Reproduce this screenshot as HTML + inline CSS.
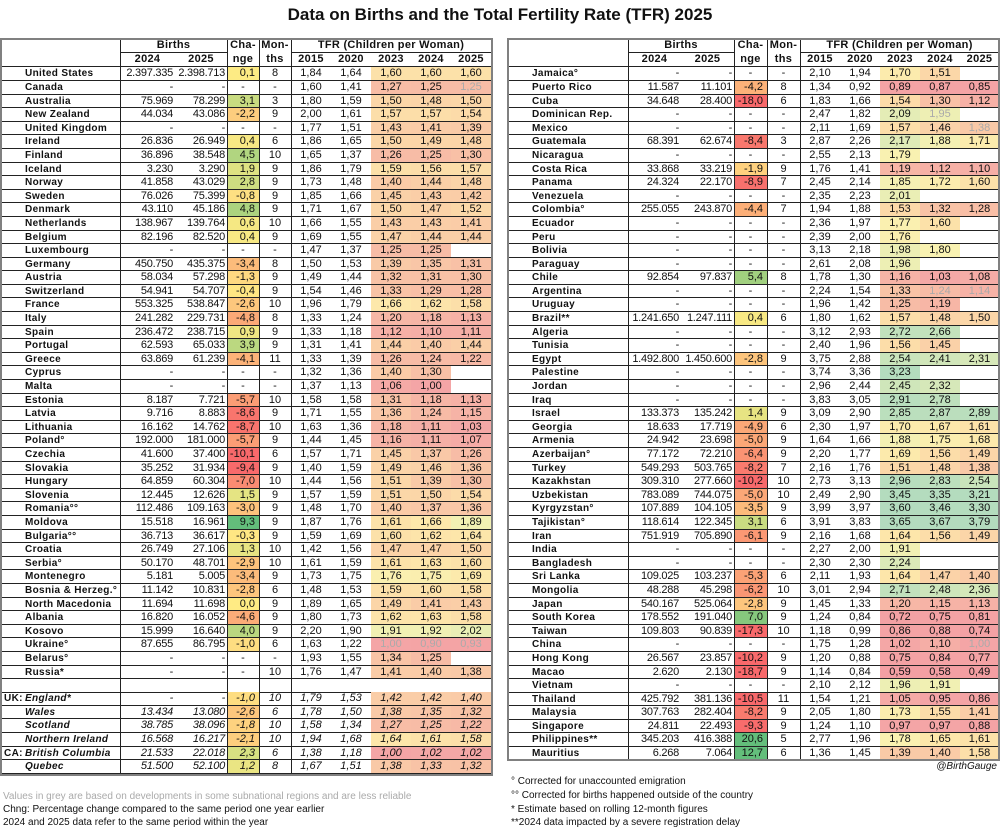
<!DOCTYPE html>
<html><head><meta charset="utf-8">
<style>
body{margin:0;width:1000px;height:829px;background:#fff;position:relative;font-family:"Liberation Sans",Arial,sans-serif;color:#111;overflow:hidden}
.title{position:absolute;left:0;width:1000px;top:5px;text-align:center;font-weight:bold;font-size:17px}
.box{position:absolute;border:2px solid #808080;box-sizing:border-box}
.vl{position:absolute;width:1px;background:#222}
.grid{position:absolute;display:grid}
.L{grid-template-columns:119px 55px 52px 32px 32px 40px 40px 40px 40px 40px}
.R{grid-template-columns:120px 53px 53px 33px 33px 40px 40px 40px 40px 39px}
.hdr{grid-template-rows:13.7px 13.7px}
.hdr>div{font-weight:bold;font-size:11px;line-height:13px;text-align:center;letter-spacing:.3px;box-sizing:border-box}
.bb{border-bottom:1px solid #222}
.data{grid-auto-rows:13.6px;border-top:1px solid #222}
.data>div{border-bottom:1px solid #222;font-size:11px;line-height:13px;white-space:nowrap;overflow:hidden;box-sizing:border-box;height:13.6px;text-align:center;position:relative}
.L.data>div:nth-child(10n+1),.R.data>div:nth-child(10n+1){text-align:left;font-weight:bold;font-size:10px;letter-spacing:.35px;padding-left:24px}
.data>div:nth-child(10n+2),.data>div:nth-child(10n+3),.data>div:nth-child(10n+4){text-align:right;padding-right:4px}
.data>div:nth-child(10n+2),.data>div:nth-child(10n+3){padding-right:2px;letter-spacing:-0.25px}
.data>div.x{text-align:center!important;padding-right:0!important}
.gr{color:#aaa}
.it>div{font-style:italic}
.pre{position:absolute;left:3px;font-style:normal}
.fn{position:absolute;font-size:10px;white-space:nowrap}
</style></head><body>
<div class="title">Data on Births and the Total Fertility Rate (TFR) 2025</div>

<!-- LEFT TABLE -->
<div class="grid L hdr" style="left:1px;top:39px">
<div style="grid-column:1;grid-row:1/3"></div>
<div class="bb" style="grid-column:2/4;grid-row:1">Births</div>
<div style="grid-column:4;grid-row:1">Cha-</div>
<div style="grid-column:5;grid-row:1">Mon-</div>
<div class="bb" style="grid-column:6/11;grid-row:1">TFR (Children per Woman)</div>
<div style="grid-column:2;grid-row:2">2024</div><div style="grid-column:3;grid-row:2">2025</div>
<div style="grid-column:4;grid-row:2">nge</div><div style="grid-column:5;grid-row:2">ths</div>
<div style="grid-column:6;grid-row:2">2015</div><div style="grid-column:7;grid-row:2">2020</div><div style="grid-column:8;grid-row:2">2023</div><div style="grid-column:9;grid-row:2">2024</div><div style="grid-column:10;grid-row:2">2025</div>
</div>
<div class="grid L data" style="left:1px;top:66.4px">
<div>United States</div><div>2.397.335</div><div>2.398.713</div><div>0,1</div><div>8</div><div>1,84</div><div>1,64</div><div>1,60</div><div>1,60</div><div>1,60</div>
<div>Canada</div><div>-</div><div>-</div><div class="x">-</div><div>-</div><div>1,60</div><div>1,41</div><div>1,27</div><div>1,25</div><div class="gr">1,25</div>
<div>Australia</div><div>75.969</div><div>78.299</div><div>3,1</div><div>3</div><div>1,80</div><div>1,59</div><div>1,50</div><div>1,48</div><div>1,50</div>
<div>New Zealand</div><div>44.034</div><div>43.086</div><div>-2,2</div><div>9</div><div>2,00</div><div>1,61</div><div>1,57</div><div>1,57</div><div>1,54</div>
<div>United Kingdom</div><div>-</div><div>-</div><div class="x">-</div><div>-</div><div>1,77</div><div>1,51</div><div>1,43</div><div>1,41</div><div>1,39</div>
<div>Ireland</div><div>26.836</div><div>26.949</div><div>0,4</div><div>6</div><div>1,86</div><div>1,65</div><div>1,50</div><div>1,49</div><div>1,48</div>
<div>Finland</div><div>36.896</div><div>38.548</div><div>4,5</div><div>10</div><div>1,65</div><div>1,37</div><div>1,26</div><div>1,25</div><div>1,30</div>
<div>Iceland</div><div>3.230</div><div>3.290</div><div>1,9</div><div>9</div><div>1,86</div><div>1,79</div><div>1,59</div><div>1,56</div><div>1,57</div>
<div>Norway</div><div>41.858</div><div>43.029</div><div>2,8</div><div>9</div><div>1,73</div><div>1,48</div><div>1,40</div><div>1,44</div><div>1,48</div>
<div>Sweden</div><div>76.026</div><div>75.399</div><div>-0,8</div><div>9</div><div>1,85</div><div>1,66</div><div>1,45</div><div>1,43</div><div>1,42</div>
<div>Denmark</div><div>43.110</div><div>45.186</div><div>4,8</div><div>9</div><div>1,71</div><div>1,67</div><div>1,50</div><div>1,47</div><div>1,52</div>
<div>Netherlands</div><div>138.967</div><div>139.764</div><div>0,6</div><div>10</div><div>1,66</div><div>1,55</div><div>1,43</div><div>1,43</div><div>1,41</div>
<div>Belgium</div><div>82.196</div><div>82.520</div><div>0,4</div><div>9</div><div>1,69</div><div>1,55</div><div>1,47</div><div>1,44</div><div>1,44</div>
<div>Luxembourg</div><div>-</div><div>-</div><div class="x">-</div><div>-</div><div>1,47</div><div>1,37</div><div>1,25</div><div>1,25</div><div></div>
<div>Germany</div><div>450.750</div><div>435.375</div><div>-3,4</div><div>8</div><div>1,50</div><div>1,53</div><div>1,39</div><div>1,35</div><div>1,31</div>
<div>Austria</div><div>58.034</div><div>57.298</div><div>-1,3</div><div>9</div><div>1,49</div><div>1,44</div><div>1,32</div><div>1,31</div><div>1,30</div>
<div>Switzerland</div><div>54.941</div><div>54.707</div><div>-0,4</div><div>9</div><div>1,54</div><div>1,46</div><div>1,33</div><div>1,29</div><div>1,28</div>
<div>France</div><div>553.325</div><div>538.847</div><div>-2,6</div><div>10</div><div>1,96</div><div>1,79</div><div>1,66</div><div>1,62</div><div>1,58</div>
<div>Italy</div><div>241.282</div><div>229.731</div><div>-4,8</div><div>8</div><div>1,33</div><div>1,24</div><div>1,20</div><div>1,18</div><div>1,13</div>
<div>Spain</div><div>236.472</div><div>238.715</div><div>0,9</div><div>9</div><div>1,33</div><div>1,18</div><div>1,12</div><div>1,10</div><div>1,11</div>
<div>Portugal</div><div>62.593</div><div>65.033</div><div>3,9</div><div>9</div><div>1,31</div><div>1,41</div><div>1,44</div><div>1,40</div><div>1,44</div>
<div>Greece</div><div>63.869</div><div>61.239</div><div>-4,1</div><div>11</div><div>1,33</div><div>1,39</div><div>1,26</div><div>1,24</div><div>1,22</div>
<div>Cyprus</div><div>-</div><div>-</div><div class="x">-</div><div>-</div><div>1,32</div><div>1,36</div><div>1,40</div><div>1,30</div><div></div>
<div>Malta</div><div>-</div><div>-</div><div class="x">-</div><div>-</div><div>1,37</div><div>1,13</div><div>1,06</div><div>1,00</div><div></div>
<div>Estonia</div><div>8.187</div><div>7.721</div><div>-5,7</div><div>10</div><div>1,58</div><div>1,58</div><div>1,31</div><div>1,18</div><div>1,13</div>
<div>Latvia</div><div>9.716</div><div>8.883</div><div>-8,6</div><div>9</div><div>1,71</div><div>1,55</div><div>1,36</div><div>1,24</div><div>1,15</div>
<div>Lithuania</div><div>16.162</div><div>14.762</div><div>-8,7</div><div>10</div><div>1,63</div><div>1,36</div><div>1,18</div><div>1,11</div><div>1,03</div>
<div>Poland°</div><div>192.000</div><div>181.000</div><div>-5,7</div><div>9</div><div>1,44</div><div>1,45</div><div>1,16</div><div>1,11</div><div>1,07</div>
<div>Czechia</div><div>41.600</div><div>37.400</div><div>-10,1</div><div>6</div><div>1,57</div><div>1,71</div><div>1,45</div><div>1,37</div><div>1,26</div>
<div>Slovakia</div><div>35.252</div><div>31.934</div><div>-9,4</div><div>9</div><div>1,40</div><div>1,59</div><div>1,49</div><div>1,46</div><div>1,36</div>
<div>Hungary</div><div>64.859</div><div>60.304</div><div>-7,0</div><div>10</div><div>1,44</div><div>1,56</div><div>1,51</div><div>1,39</div><div>1,30</div>
<div>Slovenia</div><div>12.445</div><div>12.626</div><div>1,5</div><div>9</div><div>1,57</div><div>1,59</div><div>1,51</div><div>1,50</div><div>1,54</div>
<div>Romania°°</div><div>112.486</div><div>109.163</div><div>-3,0</div><div>9</div><div>1,48</div><div>1,70</div><div>1,40</div><div>1,37</div><div>1,36</div>
<div>Moldova</div><div>15.518</div><div>16.961</div><div>9,3</div><div>9</div><div>1,87</div><div>1,76</div><div>1,61</div><div>1,66</div><div>1,89</div>
<div>Bulgaria°°</div><div>36.713</div><div>36.617</div><div>-0,3</div><div>9</div><div>1,59</div><div>1,69</div><div>1,60</div><div>1,62</div><div>1,64</div>
<div>Croatia</div><div>26.749</div><div>27.106</div><div>1,3</div><div>10</div><div>1,42</div><div>1,56</div><div>1,47</div><div>1,47</div><div>1,50</div>
<div>Serbia°</div><div>50.170</div><div>48.701</div><div>-2,9</div><div>10</div><div>1,61</div><div>1,59</div><div>1,61</div><div>1,63</div><div>1,60</div>
<div>Montenegro</div><div>5.181</div><div>5.005</div><div>-3,4</div><div>9</div><div>1,73</div><div>1,75</div><div>1,76</div><div>1,75</div><div>1,69</div>
<div>Bosnia &amp; Herzeg.°</div><div>11.142</div><div>10.831</div><div>-2,8</div><div>6</div><div>1,48</div><div>1,53</div><div>1,59</div><div>1,60</div><div>1,58</div>
<div>North Macedonia</div><div>11.694</div><div>11.698</div><div>0,0</div><div>9</div><div>1,89</div><div>1,65</div><div>1,49</div><div>1,41</div><div>1,43</div>
<div>Albania</div><div>16.820</div><div>16.052</div><div>-4,6</div><div>9</div><div>1,80</div><div>1,73</div><div>1,62</div><div>1,63</div><div>1,58</div>
<div>Kosovo</div><div>15.999</div><div>16.640</div><div>4,0</div><div>9</div><div>2,20</div><div>1,90</div><div>1,91</div><div>1,92</div><div>2,02</div>
<div>Ukraine°</div><div>87.655</div><div>86.795</div><div>-1,0</div><div>6</div><div>1,63</div><div>1,22</div><div class="gr">1,00</div><div class="gr">0,90</div><div class="gr">0,93</div>
<div>Belarus°</div><div>-</div><div>-</div><div class="x">-</div><div>-</div><div>1,93</div><div>1,55</div><div>1,34</div><div>1,25</div><div></div>
<div>Russia*</div><div>-</div><div>-</div><div class="x">-</div><div>10</div><div>1,76</div><div>1,47</div><div>1,41</div><div>1,40</div><div>1,38</div>
</div>
<div style="position:absolute;left:1px;top:679px;width:490px;height:13.6px;border-bottom:1px solid #222;box-sizing:border-box;background:#fff"></div>
<div class="grid L data it" style="left:1px;top:692.3px;border-top:none">
<div><span class="pre">UK:</span>England*</div><div>-</div><div>-</div><div>-1,0</div><div>10</div><div>1,79</div><div>1,53</div><div>1,42</div><div>1,42</div><div>1,40</div>
<div>Wales</div><div>13.434</div><div>13.080</div><div>-2,6</div><div>6</div><div>1,78</div><div>1,50</div><div>1,38</div><div>1,35</div><div>1,32</div>
<div>Scotland</div><div>38.785</div><div>38.096</div><div>-1,8</div><div>10</div><div>1,58</div><div>1,34</div><div>1,27</div><div>1,25</div><div>1,22</div>
<div>Northern Ireland</div><div>16.568</div><div>16.217</div><div>-2,1</div><div>10</div><div>1,94</div><div>1,68</div><div>1,64</div><div>1,61</div><div>1,58</div>
<div><span class="pre">CA:</span>British Columbia</div><div>21.533</div><div>22.018</div><div>2,3</div><div>6</div><div>1,38</div><div>1,18</div><div>1,00</div><div>1,02</div><div>1,02</div>
<div>Quebec</div><div>51.500</div><div>52.100</div><div>1,2</div><div>8</div><div>1,67</div><div>1,51</div><div>1,38</div><div>1,33</div><div>1,32</div>
</div>
<div class="vl" style="left:120px;top:39px;height:736px"></div>
<div class="vl" style="left:227px;top:39px;height:736px"></div>
<div class="vl" style="left:259px;top:39px;height:736px"></div>
<div class="vl" style="left:291px;top:39px;height:736px"></div>
<div class="box" style="left:0;top:38px;width:493px;height:738px"></div>

<!-- RIGHT TABLE -->
<div class="grid R hdr" style="left:508px;top:39px">
<div style="grid-column:1;grid-row:1/3"></div>
<div class="bb" style="grid-column:2/4;grid-row:1">Births</div>
<div style="grid-column:4;grid-row:1">Cha-</div>
<div style="grid-column:5;grid-row:1">Mon-</div>
<div class="bb" style="grid-column:6/11;grid-row:1">TFR (Children per Woman)</div>
<div style="grid-column:2;grid-row:2">2024</div><div style="grid-column:3;grid-row:2">2025</div>
<div style="grid-column:4;grid-row:2">nge</div><div style="grid-column:5;grid-row:2">ths</div>
<div style="grid-column:6;grid-row:2">2015</div><div style="grid-column:7;grid-row:2">2020</div><div style="grid-column:8;grid-row:2">2023</div><div style="grid-column:9;grid-row:2">2024</div><div style="grid-column:10;grid-row:2">2025</div>
</div>
<div class="grid R data" style="left:508px;top:66.4px">
<div>Jamaica°</div><div>-</div><div>-</div><div class="x">-</div><div>-</div><div>2,10</div><div>1,94</div><div>1,70</div><div>1,51</div><div></div>
<div>Puerto Rico</div><div>11.587</div><div>11.101</div><div>-4,2</div><div>8</div><div>1,34</div><div>0,92</div><div>0,89</div><div>0,87</div><div>0,85</div>
<div>Cuba</div><div>34.648</div><div>28.400</div><div>-18,0</div><div>6</div><div>1,83</div><div>1,66</div><div>1,54</div><div>1,30</div><div>1,12</div>
<div>Dominican Rep.</div><div>-</div><div>-</div><div class="x">-</div><div>-</div><div>2,47</div><div>1,82</div><div>2,09</div><div class="gr">1,95</div><div></div>
<div>Mexico</div><div>-</div><div>-</div><div class="x">-</div><div>-</div><div>2,11</div><div>1,69</div><div>1,57</div><div>1,46</div><div class="gr">1,38</div>
<div>Guatemala</div><div>68.391</div><div>62.674</div><div>-8,4</div><div>3</div><div>2,87</div><div>2,26</div><div>2,17</div><div>1,88</div><div>1,71</div>
<div>Nicaragua</div><div>-</div><div>-</div><div class="x">-</div><div>-</div><div>2,55</div><div>2,13</div><div>1,79</div><div></div><div></div>
<div>Costa Rica</div><div>33.868</div><div>33.219</div><div>-1,9</div><div>9</div><div>1,76</div><div>1,41</div><div>1,19</div><div>1,12</div><div>1,10</div>
<div>Panama</div><div>24.324</div><div>22.170</div><div>-8,9</div><div>7</div><div>2,45</div><div>2,14</div><div>1,85</div><div>1,72</div><div>1,60</div>
<div>Venezuela</div><div>-</div><div>-</div><div class="x">-</div><div>-</div><div>2,35</div><div>2,23</div><div>2,01</div><div></div><div></div>
<div>Colombia°</div><div>255.055</div><div>243.870</div><div>-4,4</div><div>7</div><div>1,94</div><div>1,88</div><div>1,53</div><div>1,32</div><div>1,28</div>
<div>Ecuador</div><div>-</div><div>-</div><div class="x">-</div><div>-</div><div>2,36</div><div>1,97</div><div>1,77</div><div>1,60</div><div></div>
<div>Peru</div><div>-</div><div>-</div><div class="x">-</div><div>-</div><div>2,39</div><div>2,00</div><div>1,76</div><div></div><div></div>
<div>Bolivia</div><div>-</div><div>-</div><div class="x">-</div><div>-</div><div>3,13</div><div>2,18</div><div>1,98</div><div>1,80</div><div></div>
<div>Paraguay</div><div>-</div><div>-</div><div class="x">-</div><div>-</div><div>2,61</div><div>2,08</div><div>1,96</div><div></div><div></div>
<div>Chile</div><div>92.854</div><div>97.837</div><div>5,4</div><div>8</div><div>1,78</div><div>1,30</div><div>1,16</div><div>1,03</div><div>1,08</div>
<div>Argentina</div><div>-</div><div>-</div><div class="x">-</div><div>-</div><div>2,24</div><div>1,54</div><div>1,33</div><div class="gr">1,24</div><div class="gr">1,14</div>
<div>Uruguay</div><div>-</div><div>-</div><div class="x">-</div><div>-</div><div>1,96</div><div>1,42</div><div>1,25</div><div>1,19</div><div></div>
<div>Brazil**</div><div>1.241.650</div><div>1.247.111</div><div>0,4</div><div>6</div><div>1,80</div><div>1,62</div><div>1,57</div><div>1,48</div><div>1,50</div>
<div>Algeria</div><div>-</div><div>-</div><div class="x">-</div><div>-</div><div>3,12</div><div>2,93</div><div>2,72</div><div>2,66</div><div></div>
<div>Tunisia</div><div>-</div><div>-</div><div class="x">-</div><div>-</div><div>2,40</div><div>1,96</div><div>1,56</div><div>1,45</div><div></div>
<div>Egypt</div><div>1.492.800</div><div>1.450.600</div><div>-2,8</div><div>9</div><div>3,75</div><div>2,88</div><div>2,54</div><div>2,41</div><div>2,31</div>
<div>Palestine</div><div>-</div><div>-</div><div class="x">-</div><div>-</div><div>3,74</div><div>3,36</div><div>3,23</div><div></div><div></div>
<div>Jordan</div><div>-</div><div>-</div><div class="x">-</div><div>-</div><div>2,96</div><div>2,44</div><div>2,45</div><div>2,32</div><div></div>
<div>Iraq</div><div>-</div><div>-</div><div class="x">-</div><div>-</div><div>3,83</div><div>3,05</div><div>2,91</div><div>2,78</div><div></div>
<div>Israel</div><div>133.373</div><div>135.242</div><div>1,4</div><div>9</div><div>3,09</div><div>2,90</div><div>2,85</div><div>2,87</div><div>2,89</div>
<div>Georgia</div><div>18.633</div><div>17.719</div><div>-4,9</div><div>6</div><div>2,30</div><div>1,97</div><div>1,70</div><div>1,67</div><div>1,61</div>
<div>Armenia</div><div>24.942</div><div>23.698</div><div>-5,0</div><div>9</div><div>1,64</div><div>1,66</div><div>1,88</div><div>1,75</div><div>1,68</div>
<div>Azerbaijan°</div><div>77.172</div><div>72.210</div><div>-6,4</div><div>9</div><div>2,20</div><div>1,77</div><div>1,69</div><div>1,56</div><div>1,49</div>
<div>Turkey</div><div>549.293</div><div>503.765</div><div>-8,2</div><div>7</div><div>2,16</div><div>1,76</div><div>1,51</div><div>1,48</div><div>1,38</div>
<div>Kazakhstan</div><div>309.310</div><div>277.660</div><div>-10,2</div><div>10</div><div>2,73</div><div>3,13</div><div>2,96</div><div>2,83</div><div>2,54</div>
<div>Uzbekistan</div><div>783.089</div><div>744.075</div><div>-5,0</div><div>10</div><div>2,49</div><div>2,90</div><div>3,45</div><div>3,35</div><div>3,21</div>
<div>Kyrgyzstan°</div><div>107.889</div><div>104.105</div><div>-3,5</div><div>9</div><div>3,99</div><div>3,97</div><div>3,60</div><div>3,46</div><div>3,30</div>
<div>Tajikistan°</div><div>118.614</div><div>122.345</div><div>3,1</div><div>6</div><div>3,91</div><div>3,83</div><div>3,65</div><div>3,67</div><div>3,79</div>
<div>Iran</div><div>751.919</div><div>705.890</div><div>-6,1</div><div>9</div><div>2,16</div><div>1,68</div><div>1,64</div><div>1,56</div><div>1,49</div>
<div>India</div><div>-</div><div>-</div><div class="x">-</div><div>-</div><div>2,27</div><div>2,00</div><div>1,91</div><div></div><div></div>
<div>Bangladesh</div><div>-</div><div>-</div><div class="x">-</div><div>-</div><div>2,30</div><div>2,30</div><div>2,24</div><div></div><div></div>
<div>Sri Lanka</div><div>109.025</div><div>103.237</div><div>-5,3</div><div>6</div><div>2,11</div><div>1,93</div><div>1,64</div><div>1,47</div><div>1,40</div>
<div>Mongolia</div><div>48.288</div><div>45.298</div><div>-6,2</div><div>10</div><div>3,01</div><div>2,94</div><div>2,71</div><div>2,48</div><div>2,36</div>
<div>Japan</div><div>540.167</div><div>525.064</div><div>-2,8</div><div>9</div><div>1,45</div><div>1,33</div><div>1,20</div><div>1,15</div><div>1,13</div>
<div>South Korea</div><div>178.552</div><div>191.040</div><div>7,0</div><div>9</div><div>1,24</div><div>0,84</div><div>0,72</div><div>0,75</div><div>0,81</div>
<div>Taiwan</div><div>109.803</div><div>90.839</div><div>-17,3</div><div>10</div><div>1,18</div><div>0,99</div><div>0,86</div><div>0,88</div><div>0,74</div>
<div>China</div><div>-</div><div>-</div><div class="x">-</div><div>-</div><div>1,75</div><div>1,28</div><div>1,02</div><div>1,10</div><div class="gr">1,00</div>
<div>Hong Kong</div><div>26.567</div><div>23.857</div><div>-10,2</div><div>9</div><div>1,20</div><div>0,88</div><div>0,75</div><div>0,84</div><div>0,77</div>
<div>Macao</div><div>2.620</div><div>2.130</div><div>-18,7</div><div>9</div><div>1,14</div><div>0,84</div><div>0,59</div><div>0,58</div><div>0,49</div>
<div>Vietnam</div><div>-</div><div>-</div><div class="x">-</div><div>-</div><div>2,10</div><div>2,12</div><div>1,96</div><div>1,91</div><div></div>
<div>Thailand</div><div>425.792</div><div>381.136</div><div>-10,5</div><div>11</div><div>1,54</div><div>1,21</div><div>1,05</div><div>0,95</div><div>0,86</div>
<div>Malaysia</div><div>307.763</div><div>282.404</div><div>-8,2</div><div>9</div><div>2,05</div><div>1,80</div><div>1,73</div><div>1,55</div><div>1,41</div>
<div>Singapore</div><div>24.811</div><div>22.493</div><div>-9,3</div><div>9</div><div>1,24</div><div>1,10</div><div>0,97</div><div>0,97</div><div>0,88</div>
<div>Philippines**</div><div>345.203</div><div>416.388</div><div>20,6</div><div>5</div><div>2,77</div><div>1,96</div><div>1,78</div><div>1,65</div><div>1,61</div>
<div>Mauritius</div><div>6.268</div><div>7.064</div><div>12,7</div><div>6</div><div>1,36</div><div>1,45</div><div>1,39</div><div>1,40</div><div>1,58</div>
</div>
<div class="vl" style="left:628px;top:39px;height:721px"></div>
<div class="vl" style="left:734px;top:39px;height:721px"></div>
<div class="vl" style="left:767px;top:39px;height:721px"></div>
<div class="vl" style="left:800px;top:39px;height:721px"></div>
<div class="box" style="left:507px;top:38px;width:493px;height:723px"></div>

<div class="fn" style="right:3px;top:761px;font-style:italic">@BirthGauge</div>
<div class="fn" style="left:3px;top:791px;color:#aaa">Values in grey are based on developments in some subnational regions and are less reliable</div>
<div class="fn" style="left:3px;top:804px">Chng: Percentage change compared to the same period one year earlier</div>
<div class="fn" style="left:3px;top:817px">2024 and 2025 data refer to the same period within the year</div>
<div class="fn" style="left:511px;top:776px">° Corrected for unaccounted emigration</div>
<div class="fn" style="left:511px;top:790px">°° Corrected for births happened outside of the country</div>
<div class="fn" style="left:511px;top:804px">* Estimate based on rolling 12-month figures</div>
<div class="fn" style="left:511px;top:817px">**2024 data impacted by a severe registration delay</div>

<script>
function mix(a,b,t){return 'rgb('+a.map((x,i)=>Math.round(x+(b[i]-x)*t)).join(',')+')';}
function chg(v){var Y=[255,235,132],R=[248,105,107],G=[99,190,123];
 if(v<0)return mix(Y,R,Math.min(1,-v/9.5));return mix(Y,G,Math.min(1,v/9));}
var A=[[0.5,[243,158,162]],[1.0,[244,165,166]],[1.3,[248,192,166]],[1.5,[251,214,168]],[1.65,[253,231,170]],[1.8,[249,242,178]],[2.1,[227,236,182]],[2.6,[198,227,188]],[3.0,[181,220,190]],[4,[178,219,190]]];
function tfr(v){if(v<=A[0][0])return mix(A[0][1],A[0][1],0);
 for(var i=1;i<A.length;i++){if(v<=A[i][0]){return mix(A[i-1][1],A[i][1],(v-A[i-1][0])/(A[i][0]-A[i-1][0]));}}
 return mix(A[A.length-1][1],A[A.length-1][1],0);}
document.querySelectorAll('.data').forEach(function(g){
 Array.prototype.forEach.call(g.children,function(d,i){var k=i%10;
  var v=parseFloat(d.textContent.replace(',','.'));if(isNaN(v))return;
  if(k==3)d.style.background=chg(v);
  if(k>=7)d.style.background=tfr(v);});});
</script>
</body></html>
